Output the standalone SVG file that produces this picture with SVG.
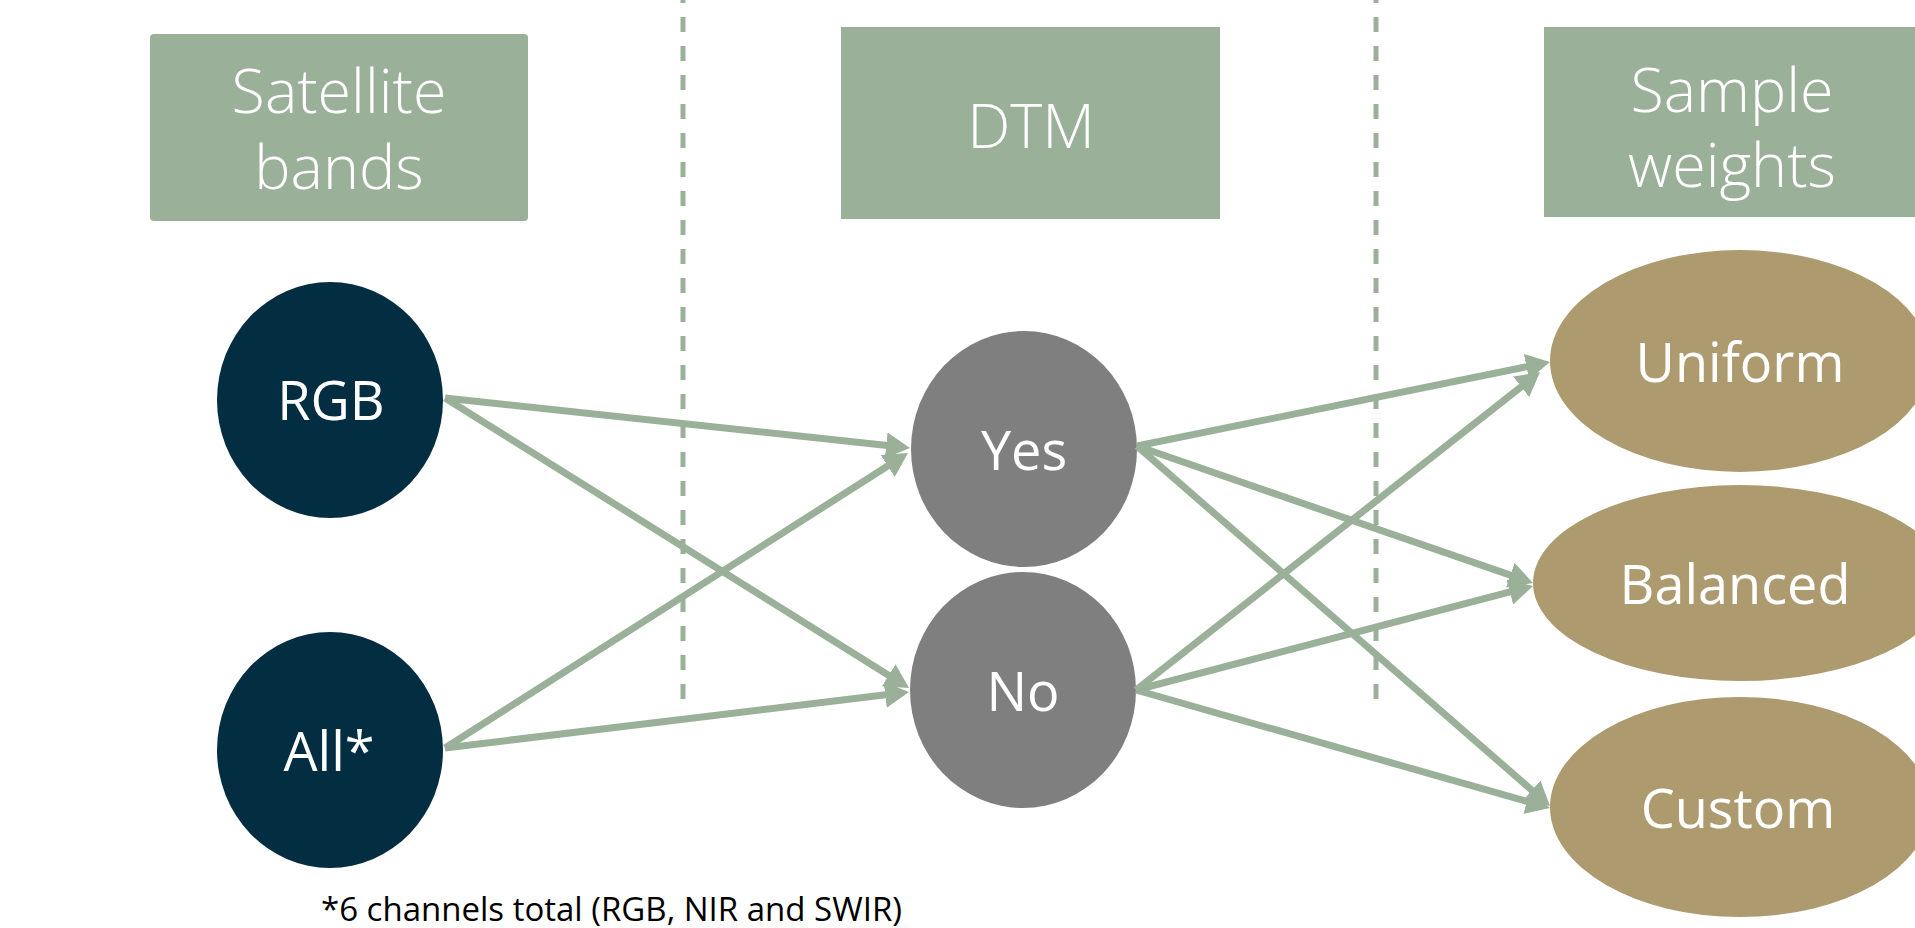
<svg xmlns="http://www.w3.org/2000/svg" width="1915" height="928" viewBox="0 0 1915 928">
<style>
.hdr{fill:#9AB098}
.htx{fill:#ffffff;font-family:"Open Sans","Liberation Sans",sans-serif;font-weight:300;font-size:61px;text-anchor:middle}
.ntx{fill:#ffffff;font-family:"Open Sans","Liberation Sans",sans-serif;font-size:54px;text-anchor:middle}
.navy{fill:#032D40}
.grey{fill:#7F7F7F}
.gold{fill:#AD9B6F}
.sep{stroke:#9AB098;stroke-width:5;stroke-dasharray:15 14;fill:none}
.conn line{stroke:#9AB098;stroke-width:7;fill:none;marker-end:url(#ah)}
.note{fill:#000000;font-family:"Open Sans","Liberation Sans",sans-serif;font-size:33px}
</style>
<defs>
<marker id="ah" markerUnits="userSpaceOnUse" markerWidth="24" markerHeight="26" viewBox="0 0 24 26" refX="13" refY="13" orient="auto">
<path d="M0,0 L24,13 L0,26 Z" fill="#9AB098"/>
</marker>
</defs>
<rect width="1915" height="928" fill="#ffffff"/>
<g id="separators">
<line class="sep" x1="683" y1="-12" x2="683" y2="706"/>
<line class="sep" x1="1376" y1="-12" x2="1376" y2="706"/>
</g>
<g id="hdr-satellite">
<rect class="hdr" x="150" y="34" width="378" height="187" rx="4"/>
<text class="htx" x="339" y="113">Satellite</text>
<text class="htx" x="339" y="189">bands</text>
</g>
<g id="hdr-dtm">
<rect class="hdr" x="841" y="27" width="379" height="192"/>
<text class="htx" x="1031" y="148">DTM</text>
</g>
<g id="hdr-weights">
<rect class="hdr" x="1544" y="27" width="380" height="190"/>
<text class="htx" x="1732" y="112">Sample</text>
<text class="htx" x="1732" y="187">weights</text>
</g>
<g id="node-rgb">
<ellipse class="navy" cx="330" cy="400" rx="113" ry="118"/>
<text class="ntx" x="331" y="420">RGB</text>
</g>
<g id="node-all">
<ellipse class="navy" cx="330" cy="750" rx="113" ry="118"/>
<text class="ntx" x="329" y="771">All*</text>
</g>
<g id="node-yes">
<ellipse class="grey" cx="1024" cy="449" rx="113" ry="118"/>
<text class="ntx" x="1024" y="470">Yes</text>
</g>
<g id="node-no">
<ellipse class="grey" cx="1023" cy="690" rx="113" ry="118"/>
<text class="ntx" x="1023" y="711">No</text>
</g>
<g id="node-uniform">
<ellipse class="gold" cx="1740" cy="361" rx="190" ry="111"/>
<text class="ntx" x="1740" y="382">Uniform</text>
</g>
<g id="node-balanced">
<ellipse class="gold" cx="1740" cy="583" rx="207" ry="98"/>
<text class="ntx" x="1735" y="604">Balanced</text>
</g>
<g id="node-custom">
<ellipse class="gold" cx="1740" cy="807" rx="190" ry="110"/>
<text class="ntx" x="1738" y="828">Custom</text>
</g>
<g id="connectors" class="conn">
<line x1="445" y1="398" x2="899.1" y2="446.8"/>
<line x1="445" y1="398" x2="899.7" y2="682.2"/>
<line x1="445" y1="748" x2="898.7" y2="459.0"/>
<line x1="445" y1="748" x2="898.1" y2="693.3"/>
<line x1="1137" y1="446" x2="1539.2" y2="364.2"/>
<line x1="1137" y1="446" x2="1522.6" y2="579.4"/>
<line x1="1137" y1="446" x2="1541.7" y2="798.8"/>
<line x1="1136" y1="690" x2="1531.4" y2="378.8"/>
<line x1="1136" y1="690" x2="1522.4" y2="588.7"/>
<line x1="1136" y1="690" x2="1539.4" y2="805.0"/>
</g>
<g id="footnote">
<text class="note" x="321" y="921">*6 channels total (RGB, NIR and SWIR)</text>
</g>
</svg>
